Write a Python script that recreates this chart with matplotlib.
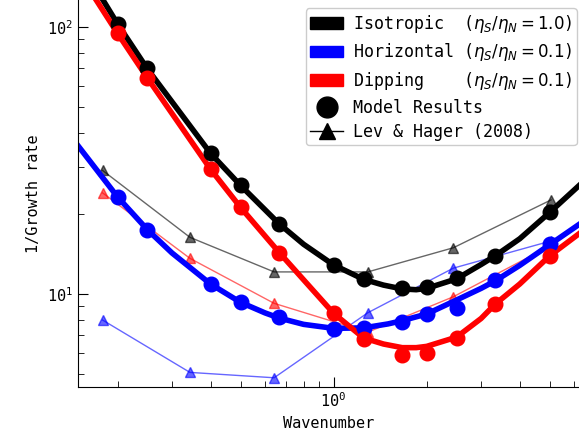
import matplotlib
matplotlib.use("Agg")
import matplotlib.pyplot as plt
import matplotlib.patches as mpatches
from matplotlib.lines import Line2D

plt.rcParams['font.family'] = 'monospace'
plt.rcParams['font.monospace'] = ['DejaVu Sans Mono']

# model results (circles)
k_model = [0.2, 0.25, 0.4, 0.5, 0.667, 1.0, 1.25, 1.667, 2.0, 2.5, 3.333, 5.0]
iso_model = [102.6, 70.0, 33.6, 25.5, 18.3, 12.8, 11.4, 10.56, 10.6, 11.5, 13.9, 20.2]
hor_model = [23.1, 17.4, 10.9, 9.31, 8.18, 7.4, 7.48, 7.88, 8.41, 8.84, 11.3, 15.4]
dip_model = [94.6, 64.3, 29.3, 21.1, 14.3, 8.47, 6.79, 5.91, 6.03, 6.86, 9.17, 13.9]

# fitted curves
k_iso_fit = [0.15, 0.2, 0.25, 0.4, 0.5, 0.667, 0.8, 1.0, 1.25, 1.45, 1.667, 1.85,
             2.0, 2.5, 3.0, 3.333, 4.0, 5.0, 6.3]
iso_fit = [177, 102.6, 69.5, 33.6, 25.5, 18.3, 15.35, 12.85, 11.35, 10.8, 10.45, 10.38,
           10.5, 11.4, 12.9, 13.9, 16.1, 20.2, 25.8]
k_hor_fit = [0.149, 0.2, 0.25, 0.3, 0.4, 0.5, 0.6, 0.667, 0.8, 1.0, 1.25, 1.5, 1.667,
             2.0, 2.5, 3.0, 3.333, 4.0, 5.0, 6.3]
hor_fit = [35.9, 23.1, 17.4, 14.25, 10.9, 9.31, 8.5, 8.13, 7.70, 7.44, 7.47, 7.73, 7.95,
           8.42, 9.5, 10.5, 11.2, 12.8, 15.3, 18.4]
k_dip_fit = [0.15, 0.2, 0.25, 0.3, 0.4, 0.5, 0.667, 0.8, 1.0, 1.25, 1.45, 1.667, 1.85,
             2.0, 2.5, 3.0, 3.333, 4.0, 5.0, 6.3]
dip_fit = [159, 94.6, 64.3, 47.4, 29.3, 21.1, 14.3, 11.3, 8.47, 6.85, 6.5, 6.3, 6.3,
           6.37, 6.9, 8.1, 9.17, 10.9, 13.9, 17.0]

# Lev & Hager (2008) (triangles)
k_lh = [0.179, 0.343, 0.642, 1.29, 2.44, 5.05]
iso_lh = [29.0, 16.3, 12.1, 12.1, 14.9, 22.5]
hor_lh = [7.99, 5.09, 4.86, 8.51, 12.5, 15.8]
dip_lh = [23.9, 13.6, 9.23, 7.2, 9.77, 15.2]

fig = plt.figure(figsize=(5.79, 4.44), dpi=100)
ax = fig.add_axes([78/579, 57.3/444, 1 - 78/579, 386.7/444])

#Lev & Hager lines
ax.plot(k_lh, iso_lh, '-^', color='k', alpha=0.6, lw=1, ms=7, zorder=1)
ax.plot(k_lh, hor_lh, '-^', color='b', alpha=0.6, lw=1, ms=7, zorder=1)
ax.plot(k_lh, dip_lh, '-^', color='r', alpha=0.6, lw=1, ms=7, zorder=1)

#fitted curves
ax.plot(k_iso_fit, iso_fit, '-', color='k', lw=4, zorder=2)
ax.plot(k_hor_fit, hor_fit, '-', color='b', lw=4, zorder=2)
ax.plot(k_dip_fit, dip_fit, '-', color='r', lw=4, zorder=2)

#model points
ax.plot(k_model, iso_model, 'o', color='k', ms=10.5, zorder=3)
ax.plot(k_model, hor_model, 'o', color='b', ms=10.5, zorder=3)
ax.plot(k_model, dip_model, 'o', color='r', ms=10.5, zorder=3)

ax.set_xscale('log')
ax.set_yscale('log')
ax.set_xlim(0.149, 6.22)
ax.set_ylim(4.5, 126)
ax.spines['top'].set_visible(False)
ax.spines['right'].set_visible(False)
ax.tick_params(which='both', direction='in', labelsize=11)
ax.tick_params(which='major', length=7)
ax.tick_params(which='minor', length=4)
ax.set_xlabel('Wavenumber', fontsize=11)
ax.set_ylabel('1/Growth rate', fontsize=11)

handles = [mpatches.Patch(color='k', label=r'Isotropic  ($\eta_S/\eta_N = 1.0$)'),
           mpatches.Patch(color='b', label=r'Horizontal ($\eta_S/\eta_N = 0.1$)'),
           mpatches.Patch(color='r', label=r'Dipping    ($\eta_S/\eta_N = 0.1$)'),
           Line2D([], [], marker='o', ls='', color='k', ms=15, label='Model Results'),
           Line2D([], [], marker='^', ls='-', color='k', lw=1, ms=12, label='Lev & Hager (2008)')]
ax.legend(handles=handles, loc='upper right', bbox_to_anchor=(1 + 6/501, 1),
          fontsize=12, framealpha=1, labelspacing=0.4, handletextpad=0.6,
          borderpad=0.25)

fig.savefig('out.png', dpi=100)
